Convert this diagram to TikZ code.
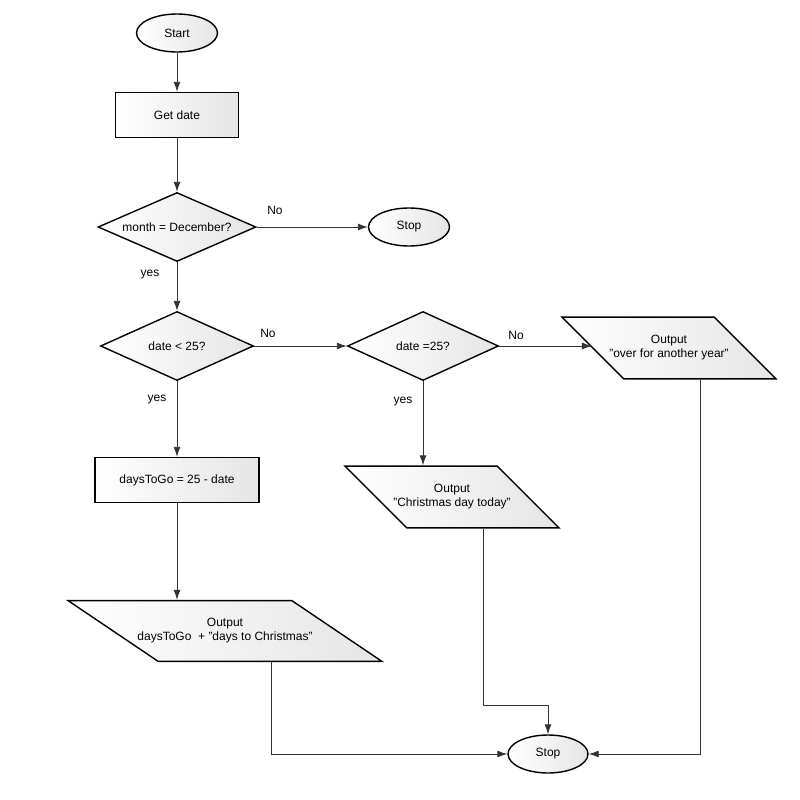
\documentclass[tikz,border=0pt]{standalone}
\usepackage{fontspec}
\setmainfont{Liberation Sans}
\usetikzlibrary{shapes.geometric,arrows.meta}

\begin{document}
\begin{tikzpicture}[x=1pt,y=-1pt]
\tikzstyle{every node}=[font=\fontsize{12}{14}\selectfont, inner sep=0pt]
\tikzstyle{box}=[draw, line width=1.4pt, left color=white, right color=black!10]
\tikzstyle{term}=[box, ellipse, minimum width=81pt, minimum height=38pt]
\tikzstyle{proc}=[box, rectangle, minimum height=45pt]
\tikzstyle{decide}=[box, diamond, aspect=2.2, minimum height=69pt]
\tikzstyle{io}=[box, trapezium, trapezium stretches body, trapezium left angle=135, trapezium right angle=45, inner xsep=-40pt, inner ysep=18.5pt, align=center]
\tikzstyle{flow}=[draw=black!80, line width=0.9pt, -{Latex[length=10pt,width=7pt]}]
\tikzstyle{lbl}=[text=black]
\useasboundingbox (0,0) rectangle (800,800);
\draw (177,33) node (start) [term] {Start};
\draw (177,115) node (get) [proc, minimum width=123pt] {Get date};
\draw (177,227) node (month) [decide, minimum width=158pt] {month = December?};
\draw (409,227) node (stopa) [term] {Stop};
\draw (177,346) node (less) [decide, minimum width=153pt] {date < 25?};
\draw (423,346) node (equal) [decide, minimum width=151pt] {date =25?};
\draw (669,348) node (over) [io, minimum width=214pt] {Output\\"over for another year"};
\draw (452,497) node (xmas) [io, minimum width=214pt] {Output\\"Christmas day today"};
\draw (177,480) node (calc) [proc, minimum width=164pt] {daysToGo = 25 - date};
\draw (225,631) node (togo) [io, trapezium left angle=146, trapezium right angle=34, inner ysep=18pt, minimum width=314pt] {Output\\daysToGo~~+ "days to Christmas"};
\draw (548,754) node (stopb) [term, minimum width=80pt] {Stop};
% branch labels
\draw (275,210) node (no1) [lbl] {No};
\draw (150,275) node (yes1) [lbl] {yes};
\draw (268,333) node (no2) [lbl] {No};
\draw (157,400) node (yes2) [lbl] {yes};
\draw (516,335) node (no3) [lbl] {No};
\draw (403,402) node (yes3) [lbl] {yes};
\coordinate (kink) at (548,705);
\draw[flow] (start) -- (get);
\draw[flow] (get) -- (month);
\draw[flow] (month) -- (stopa);
\draw[flow] (month) -- (less);
\draw[flow] (less) -- (equal);
\draw[flow] (equal) -- (equal -| over.left side);
\draw[flow] (equal) -- (equal |- xmas.north);
\draw[flow] (less) -- (calc);
\draw[flow] (calc) -- (calc |- togo.north);
\draw[flow] (togo.bottom side) |- (stopb);
\draw[flow] (xmas.bottom side) |- (kink) -- (stopb);
\draw[flow] (over.bottom side) |- (stopb);
\end{tikzpicture}
\end{document}
